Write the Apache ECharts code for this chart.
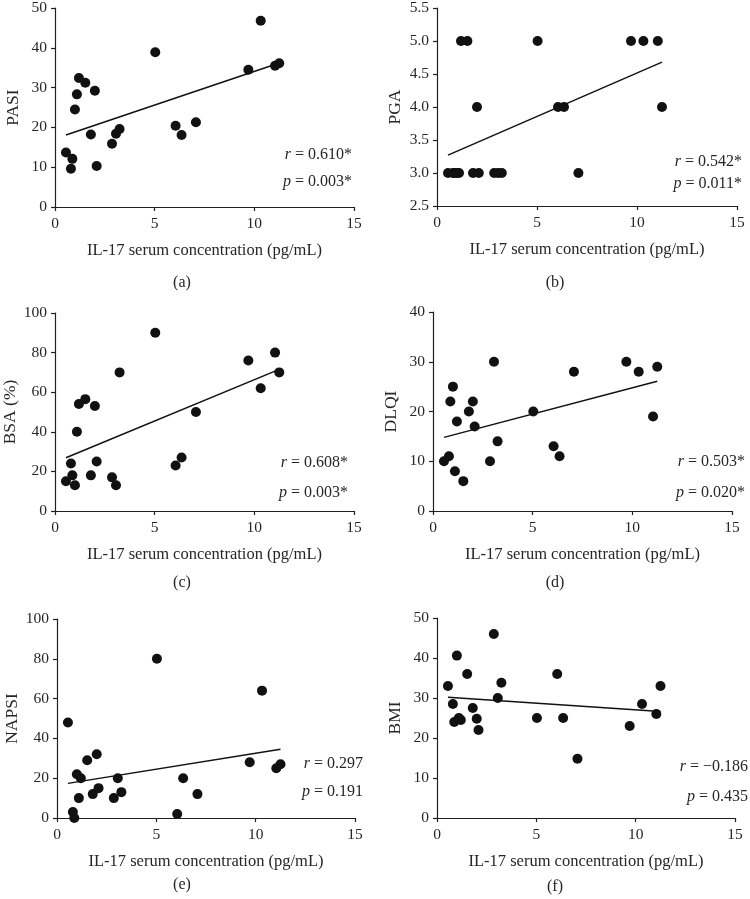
<!DOCTYPE html>
<html><head><meta charset="utf-8">
<script src="https://cdn.jsdelivr.net/npm/echarts@6/dist/echarts.min.js"></script>
<style>html,body{margin:0;padding:0;background:#fff}#c{width:750px;height:899px}</style>
</head><body><div id="c"></div>
<script>
// shared IL-17 serum concentration (pg/mL) values
var il17 = [0.55, 0.8, 0.87, 1.0, 1.1, 1.2, 1.52, 1.8, 2.0, 2.09, 2.86, 3.06, 3.24, 5.03, 6.05, 6.35, 7.07, 9.7, 10.32, 11.04, 11.25];
var pasi  = [13.7, 9.6, 12.1, 24.5, 28.3, 32.4, 31.2, 18.2, 29.2, 10.3, 15.9, 18.4, 19.6, 38.9, 20.4, 18.1, 21.3, 34.5, 46.8, 35.5, 36.1];
var pga   = [3, 3, 3, 3, 3, 5, 5, 3, 4, 3, 3, 3, 3, 5, 4, 4, 3, 5, 5, 5, 4];
var bsa   = [15, 24, 18, 13, 40, 54, 56.5, 18, 53, 25, 17, 13, 70, 90, 23, 27, 50, 76, 62, 80, 70];
var dlqi  = [10, 11, 22, 25, 8, 18, 6, 20, 22, 17, 10, 30, 14, 20, 13, 11, 28, 30, 28, 19, 29];
var napsi = [48, 3, 0, 22, 10, 20, 29, 12, 32, 15, 10, 20, 13, 80, 2, 20, 12, 28, 64, 25, 27];
var bmi   = [33, 28.5, 24, 40.6, 25, 24.5, 36, 27.5, 24.8, 22, 46, 30, 33.8, 25, 36, 25, 14.8, 23, 28.5, 26, 33];

// fitted trend lines [x, y] endpoints
var fitA = [[0.55, 18.1], [11.25, 36.2]];
var fitB = [[0.55, 3.27], [11.25, 4.68]];
var fitC = [[0.55, 26.9], [11.25, 71.5]];
var fitD = [[0.55, 14.8], [11.25, 26.1]];
var fitE = [[0.55, 17.4], [11.25, 34.5]];
var fitF = [[0.55, 30.2], [11.25, 26.6]];

var yNames = ['PASI', 'PGA', 'BSA (%)', 'DLQI', 'NAPSI', 'BMI'];
var yMin = [0, 2.5, 0, 0, 0, 0];
var yMax = [50, 5.5, 100, 40, 100, 50];
var yStep = [10, 0.5, 20, 10, 20, 10];
var rTexts = ['0.610*', '0.542*', '0.608*', '0.503*', '0.297', '\u22120.186'];
var pTexts = ['0.003*', '0.011*', '0.003*', '0.020*', '0.191', '0.435'];
var panelLabels = ['(a)', '(b)', '(c)', '(d)', '(e)', '(f)'];
var xTitle = 'IL-17 serum concentration (pg/mL)';

var ys = [pasi, pga, bsa, dlqi, napsi, bmi];
var fits = [fitA, fitB, fitC, fitD, fitE, fitF];

var grids = [
  {left: 55, top: 7, width: 299, height: 200},
  {left: 437, top: 7, width: 300, height: 199},
  {left: 55, top: 313, width: 299, height: 198},
  {left: 433, top: 312, width: 299, height: 199},
  {left: 57, top: 619, width: 298, height: 199},
  {left: 437, top: 618, width: 298, height: 200}
];
var annot = [
  {x: 352, ry: 155, py: 182},
  {x: 742, ry: 162, py: 184},
  {x: 348, ry: 463, py: 493},
  {x: 745, ry: 462, py: 493},
  {x: 363, ry: 764, py: 792},
  {x: 748, ry: 767, py: 797}
];
var labPos = [[182, 283], [555, 283], [182, 583], [555, 583], [182, 885], [555, 887]];

var FONT = '"Liberation Serif", "DejaVu Serif", serif';
var INK = '#1f1f1f';
var TXT = '#262626';
var axisLine = {lineStyle: {color: INK, width: 1.2}};
var axisTick = {show: true, inside: false, length: 4, lineStyle: {color: INK, width: 1.2}};

var xAxes = [], yAxes = [], series = [], graphics = [];
for (var i = 0; i < 6; i++) {
  xAxes.push({
    type: 'value', gridIndex: i, min: 0, max: 15, interval: 5,
    name: xTitle, nameLocation: 'middle', nameGap: 35,
    nameTextStyle: {fontFamily: FONT, fontSize: 16.5, color: TXT},
    axisLine: axisLine, axisTick: axisTick, splitLine: {show: false},
    axisLabel: {fontFamily: FONT, fontSize: 15.5, color: TXT, margin: 9}
  });
  yAxes.push({
    type: 'value', gridIndex: i, min: yMin[i], max: yMax[i], interval: yStep[i],
    name: yNames[i], nameLocation: 'middle', nameGap: 33, nameRotate: 90,
    nameTextStyle: {fontFamily: FONT, fontSize: 17.5, color: TXT},
    axisLine: Object.assign({show: true}, axisLine), axisTick: axisTick, splitLine: {show: false},
    axisLabel: {fontFamily: FONT, fontSize: 15.5, color: TXT, margin: 8,
      formatter: (i === 1) ? function (v) { return v.toFixed(1); } : null}
  });
  var pts = il17.map(function (x, k) { return [x, ys[i][k]]; });
  series.push({
    type: 'scatter', xAxisIndex: i, yAxisIndex: i, data: pts,
    symbol: 'circle', symbolSize: 10, itemStyle: {color: '#111', opacity: 1}, silent: true, z: 3
  });
  series.push({
    type: 'line', xAxisIndex: i, yAxisIndex: i, data: fits[i],
    symbol: 'none', lineStyle: {color: '#111', width: 1.5}, silent: true, z: 2
  });
  graphics.push({
    type: 'text', x: annot[i].x, y: annot[i].ry,
    style: {text: '{i|r} = ' + rTexts[i], textAlign: 'right', textVerticalAlign: 'middle',
      font: '16px ' + FONT, fill: TXT,
      rich: {i: {fontStyle: 'italic', fontFamily: FONT, fontSize: 16, fill: TXT}}}
  });
  graphics.push({
    type: 'text', x: annot[i].x, y: annot[i].py,
    style: {text: '{i|p} = ' + pTexts[i], textAlign: 'right', textVerticalAlign: 'middle',
      font: '16px ' + FONT, fill: TXT,
      rich: {i: {fontStyle: 'italic', fontFamily: FONT, fontSize: 16, fill: TXT}}}
  });
  graphics.push({
    type: 'text', x: labPos[i][0], y: labPos[i][1],
    style: {text: panelLabels[i], textAlign: 'center', textVerticalAlign: 'middle',
      font: '16px ' + FONT, fill: TXT}
  });
}

var chart = echarts.init(document.getElementById('c'), null, {renderer: 'canvas'});
chart.setOption({
  animation: false,
  backgroundColor: '#fff',
  grid: grids,
  xAxis: xAxes,
  yAxis: yAxes,
  series: series,
  graphic: graphics
});
</script>
</body></html>
